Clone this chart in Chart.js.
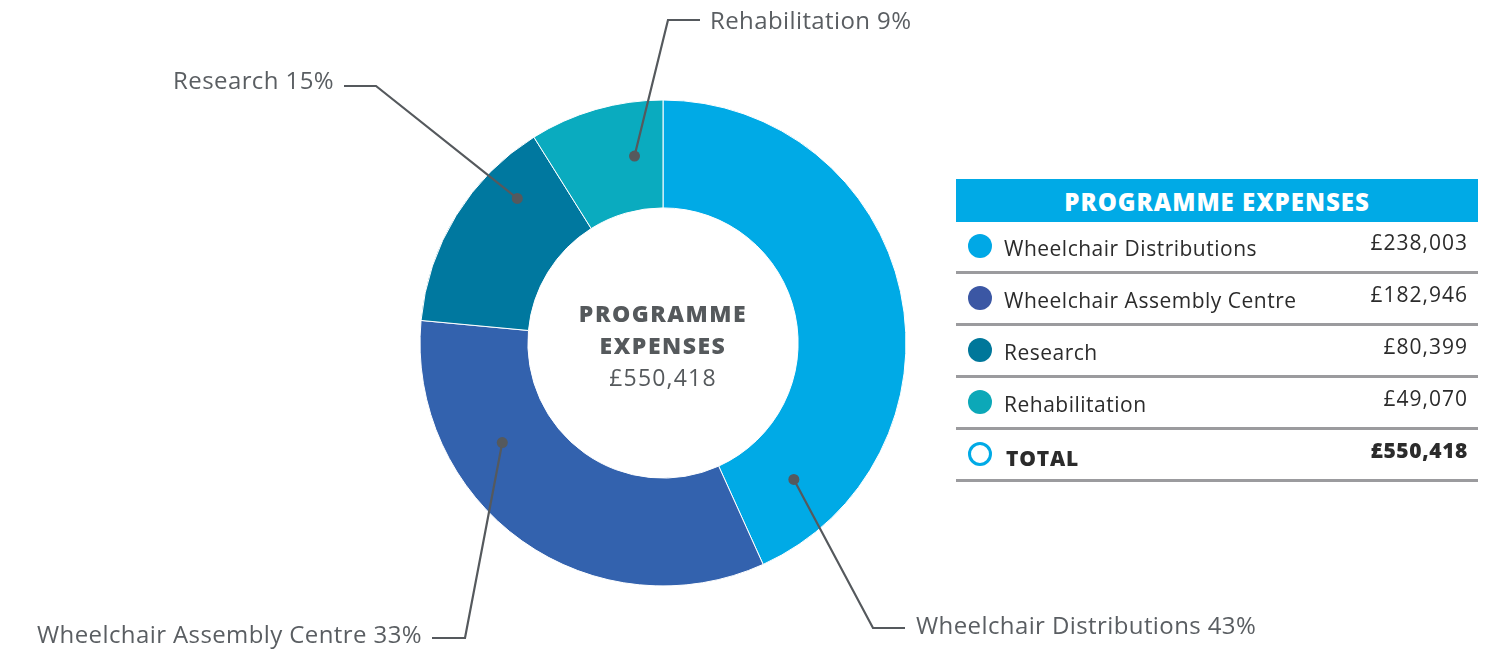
<!DOCTYPE html>
<html>
<head>
<meta charset="utf-8">
<script src="https://cdn.jsdelivr.net/npm/chart.js@4/dist/chart.umd.min.js"></script>
<style>
  html, body { margin: 0; padding: 0; background: #fff; }
  body { width: 1503px; height: 651px; position: relative; overflow: hidden; font-family: "Open Sans", sans-serif; }
  #wrap { position: absolute; left: 0; top: 0; width: 1503px; height: 651px; }
  #tbl { position: absolute; left: 956px; top: 179px; width: 522px; }
  #tbl .head { background: #00AAE6; color: #fff; font-weight: 800; font-size: 24px; letter-spacing: 1px; height: 43px; line-height: 45px; text-align: center; white-space: nowrap; }
  #tbl .row { position: relative; height: 49px; border-bottom: 3px solid #9b9b9e; color: #2b2b2b; font-size: 21px; letter-spacing: 0.5px; }
  #tbl .dot { position: absolute; left: 12px; top: 12px; width: 24px; height: 24px; border-radius: 50%; box-sizing: border-box; }
  #tbl .lab { position: absolute; left: 48px; top: 11px; line-height: 30px; white-space: nowrap; }
  #tbl .val { position: absolute; right: 10px; top: 5px; line-height: 30px; letter-spacing: 1px; }
  #tbl .total .lab, #tbl .total .val { font-weight: 800; }
</style>
</head>
<body>
<div id="wrap"><canvas id="c" width="1503" height="651"></canvas></div>
<div id="tbl">
  <div class="head">PROGRAMME EXPENSES</div>
  <div id="rows"></div>
</div>
<script>
const categories = ["Wheelchair Distributions", "Wheelchair Assembly Centre", "Research", "Rehabilitation"];
const values = [238003, 182946, 80399, 49070];
const percentLabels = ["43%", "33%", "15%", "9%"];
const totalLabel = "£550,418";
const colors = ["#00AAE6", "#3362AE", "#00789F", "#0AABBF"];
const tableDotColors = ["#00A8E6", "#3B57A4", "#00779A", "#0CA8B8"];

// leader-line layout: where the dot sits inside each slice (fraction of angle, radius fraction),
// elbow and end of the leader line, and label text anchor
const leaderLayout = [
  { angFrac: 0.875, radFrac: 0.5, elbow: [873, 628], end: [905, 628], text: [916, 627], align: "left" },
  { angFrac: 0.69,  radFrac: 0.5, elbow: [465, 638], end: [432, 638], text: [422, 636], align: "right" },
  { angFrac: 0.75,  radFrac: 0.65, elbow: [376, 86], end: [344, 86], text: [334, 82], align: "right" },
  { angFrac: 0.73,  radFrac: 0.5, elbow: [668, 20], end: [700, 20], text: [710, 22], align: "left" }
];

// build table
const fmt = v => "£" + v.toLocaleString("en-GB");
const rows = document.getElementById("rows");
categories.forEach((c, i) => {
  const d = document.createElement("div");
  d.className = "row";
  d.innerHTML = `<span class="dot" style="background:${tableDotColors[i]}"></span><span class="lab">${c}</span><span class="val">${fmt(values[i])}</span>`;
  rows.appendChild(d);
});
const total = values.reduce((a, b) => a + b, 0);
const tdiv = document.createElement("div");
tdiv.className = "row total";
tdiv.innerHTML = `<span class="dot" style="border:3px solid #00AAE6;background:#fff"></span><span class="lab" style="left:50px;top:13px;letter-spacing:0.8px">TOTAL</span><span class="val" style="letter-spacing:0.6px">${fmt(total)}</span>`;
rows.appendChild(tdiv);

const leaderPlugin = {
  id: "leaders",
  afterDatasetsDraw(chart) {
    const ctx = chart.ctx;
    const meta = chart.getDatasetMeta(0);
    ctx.save();
    meta.data.forEach((arc, i) => {
      const L = leaderLayout[i];
      const p = arc.getProps(["x", "y", "startAngle", "endAngle", "innerRadius", "outerRadius"], true);
      const a = p.startAngle + (p.endAngle - p.startAngle) * L.angFrac;
      const r = p.innerRadius + (p.outerRadius - p.innerRadius) * L.radFrac;
      const dx = p.x + Math.cos(a) * r, dy = p.y + Math.sin(a) * r;
      ctx.strokeStyle = "#55595d";
      ctx.lineWidth = 2.2;
      ctx.beginPath();
      ctx.moveTo(dx, dy);
      ctx.lineTo(L.elbow[0], L.elbow[1]);
      ctx.lineTo(L.end[0], L.end[1]);
      ctx.stroke();
      ctx.fillStyle = "#55595d";
      ctx.beginPath();
      ctx.arc(dx, dy, 5.5, 0, Math.PI * 2);
      ctx.fill();
      ctx.font = "24px 'Open Sans', sans-serif";
      ctx.letterSpacing = "0.4px";
      ctx.fillStyle = "#5a5e62";
      ctx.textAlign = L.align;
      ctx.textBaseline = "middle";
      ctx.fillText(categories[i] + " " + percentLabels[i], L.text[0], L.text[1]);
    });
    // centre text
    const p0 = meta.data[0].getProps(["x", "y"], true);
    ctx.textAlign = "center";
    ctx.textBaseline = "middle";
    ctx.fillStyle = "#55595c";
    ctx.font = "800 23px 'Open Sans', sans-serif";
    ctx.letterSpacing = "1.5px";
    ctx.fillText("PROGRAMME", p0.x, p0.y - 28);
    ctx.fillText("EXPENSES", p0.x, p0.y + 4);
    ctx.font = "23px 'Open Sans', sans-serif";
    ctx.letterSpacing = "1.2px";
    ctx.fillText(totalLabel, p0.x, p0.y + 36);
    ctx.restore();
  }
};

new Chart(document.getElementById("c"), {
  type: "doughnut",
  data: {
    labels: categories,
    datasets: [{
      data: values,
      backgroundColor: colors,
      borderColor: "#ffffff",
      borderWidth: 1,
      hoverOffset: 0
    }]
  },
  options: {
    responsive: false,
    animation: false,
    radius: 243,
    cutout: "55.6%",
    layout: { padding: { left: 0, right: 177, top: 35, bottom: 0 } },
    plugins: { legend: { display: false }, tooltip: { enabled: false } },
    events: []
  },
  plugins: [leaderPlugin]
});
</script>
</body>
</html>
